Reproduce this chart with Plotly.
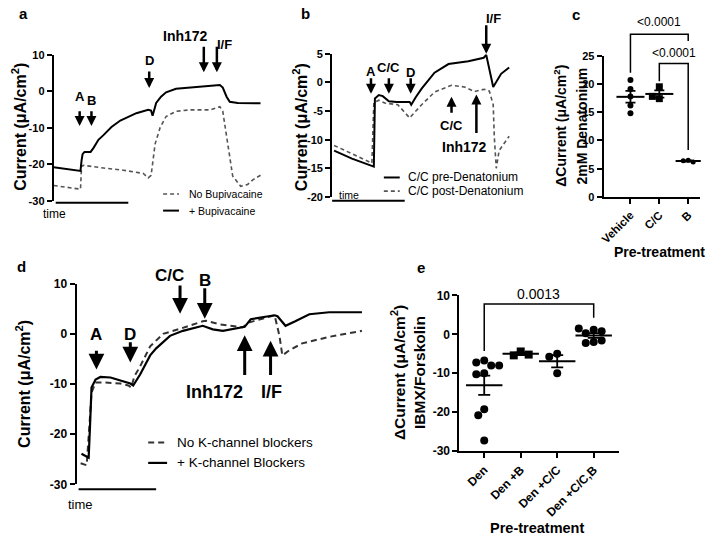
import numpy as np
import plotly.graph_objects as go

W, H = 708, 542
FONT = "Liberation Sans, Arial, Helvetica, sans-serif"

# ---------------- data ----------------
# a: Ussing chamber traces, with / without bupivacaine
a_t_bup = [0, 12.7, 13.2, 13.7, 14.6, 17.5, 18.9, 19.8, 21.2, 23.6, 27.4, 31.6, 35.4, 39.2, 44.8,
           46.2, 46.9, 48.6, 50.9, 53.3, 58.0, 64.6, 73.1, 75.5, 78.8, 80.2, 82.0, 83.5, 87.3, 98.1]
a_bup = [-20.8, -21.8, -19.0, -17.2, -16.6, -16.6, -15.5, -14.5, -13.3, -12.0, -9.8, -8.0, -7.1, -6.0, -5.1,
         -5.3, -6.7, -3.2, -1.5, -0.3, 0.7, 1.0, 1.3, 1.6, 1.7, 1.0, -1.5, -2.9, -3.2, -3.3]
a_t_ctrl = [0, 7.1, 12.7, 13.2, 14.2, 23.6, 33.0, 42.5, 44.8, 46.2, 48.1, 50.5, 53.3, 58.0, 64.6,
            74.1, 78.8, 80.2, 82.5, 84.9, 88.7, 92.0, 94.3, 98.1]
a_ctrl = [-25.8, -26.3, -26.8, -20.5, -20.3, -21.0, -21.6, -22.5, -23.7, -23.0, -14.4, -9.9, -6.9, -5.5, -5.1,
          -5.1, -4.2, -5.5, -14.4, -23.2, -26.0, -25.5, -24.3, -23.0]
a_yticks = [-30, -20, -10, 0, 10]

# b: C/C before / after denatonium
b_t_pre = [1.1, 11.1, 23.3, 23.9, 26.1, 28.3, 31.7, 36.1, 43.3, 44.2, 46.7, 50.0, 57.2, 65.0, 76.1,
           84.7, 86.1, 87.8, 90.0, 94.4, 98.9]
b_pre = [-11.9, -13.3, -14.7, -2.8, -2.2, -2.4, -3.3, -3.4, -3.4, -3.9, -2.6, -1.1, 1.7, 3.2, 3.7,
         4.3, 4.8, 2.5, -0.8, 1.5, 2.6]
b_t_post = [1.1, 22.2, 23.3, 26.1, 29.4, 36.7, 43.3, 50.0, 57.2, 66.7, 73.9, 79.4, 85.0, 87.8, 90.0,
            90.6, 91.7, 93.3, 98.9]
b_post = [-11.0, -14.1, -3.5, -3.1, -3.6, -3.9, -6.2, -3.9, -1.7, -0.5, -0.8, -1.6, -1.2, -1.5, -3.9,
          -9.5, -15.0, -11.9, -9.4]
b_yticks = [-20, -15, -10, -5, 0, 5]

# c: delta current to 2mM denatonium by pre-treatment
c_groups = ["Vehicle", "C/C", "B"]
c_vehicle = [20.7, 19.1, 17.8, 16.2, 14.8]
c_cc = [19.5, 17.4, 17.8]
c_b = [6.5, 6.4, 6.2]
c_yticks = [0, 5, 10, 15, 20, 25]
c_pvals = ["<0.0001", "<0.0001"]

# d: with / without K-channel blockers
d_t_blk = [1.7, 4.2, 4.7, 5.2, 6.6, 8.3, 11.8, 15.2, 18.7, 19.7, 22.1, 25.6, 27.7, 32.5, 37.0,
           43.9, 45.0, 47.4, 50.9, 55.4, 58.5, 60.6, 64.7, 68.9, 69.9, 72.7, 76.1, 81.0, 87.9, 99.3]
d_blk = [-23.9, -24.7, -18.0, -10.7, -9.1, -8.6, -8.7, -9.3, -9.9, -10.3, -8.1, -4.3, -2.9, -0.4, 0.6,
         1.6, 1.4, 0.9, 0.6, 1.0, 1.4, 2.9, 3.3, 3.7, 3.5, 1.6, 2.5, 3.9, 4.3, 4.3]
d_t_ctrl = [1.4, 3.5, 4.5, 5.2, 6.6, 9.3, 15.2, 18.0, 19.0, 20.1, 22.1, 25.6, 30.1, 36.0, 43.9,
            45.0, 49.8, 57.8, 60.2, 67.1, 68.9, 70.6, 71.6, 74.0, 78.5, 87.9, 99.3]
d_ctrl = [-25.8, -26.2, -18.0, -11.7, -9.7, -9.7, -9.9, -10.3, -10.7, -8.5, -6.5, -2.5, 0.0, 1.0, 2.5,
          2.6, 1.9, 1.3, 2.3, 3.4, 3.7, -0.4, -4.3, -3.3, -1.9, -0.6, 0.6]
d_yticks = [-30, -20, -10, 0, 10]

# e: delta current to IBMX/forskolin by pre-treatment
e_groups = ["Den", "Den +B", "Den +C/C", "Den +C/C,B"]
e_den = [-6.75, -7.25, -8.0, -8.0, -10.0, -10.25, -19.25, -20.75, -27.25]
e_den_b = [-4.4, -5.4, -5.2]
e_den_cc = [-5.0, -5.75, -10.0]
e_den_ccb = [1.2, 0.3, 0.8, 1.5, -2.0, -1.6, -2.2]
e_yticks = [-30, -20, -10, 0, 10]
e_pvals = ["0.0013"]

# ---------------- geometry: pixel box + data range of each panel ----------------
GEOM = {
    "a": dict(ax=1, px=(50, 262), py=(49, 199), xr=(0, 100), yr=(-30, 10)),
    "b": dict(ax=2, px=(330, 510), py=(48, 195), xr=(0, 100), yr=(-20, 5)),
    "c": dict(ax=3, px=(603, 700), py=(50, 195), xr=(-0.93, 2.41), yr=(0, 25)),
    "d": dict(ax=4, px=(73, 362), py=(284, 490), xr=(0, 100), yr=(-30, 10)),
    "e": dict(ax=5, px=(458, 618), py=(296, 456), xr=(-0.68, 3.68), yr=(-30, 10)),
}

fig = go.Figure()
ann, shp, axes = [], [], {}


def ids(p):
    i = GEOM[p]["ax"]
    s = "" if i == 1 else str(i)
    return "x" + s, "y" + s, "xaxis" + s, "yaxis" + s


def ppu(p):
    g = GEOM[p]
    return ((g["px"][1] - g["px"][0]) / (g["xr"][1] - g["xr"][0]),
            (g["py"][1] - g["py"][0]) / (g["yr"][1] - g["yr"][0]))


def to_px(p, x, y):
    g = GEOM[p]
    kx, ky = ppu(p)
    return g["px"][0] + (x - g["xr"][0]) * kx, g["py"][1] - (y - g["yr"][0]) * ky


def text(xp, yp, s, size, bold=True, xanchor="center", angle=0):
    ann.append(dict(x=xp / W, y=1 - yp / H, xref="paper", yref="paper", text=s, showarrow=False,
                    xanchor=xanchor, yanchor="middle", textangle=angle,
                    font=dict(family=FONT, size=size, color="black",
                              weight="bold" if bold else "normal")))


def seg(x0, y0, x1, y1, width=2, dash="solid", color="black"):
    shp.append(dict(type="line", xref="paper", yref="paper", x0=x0 / W, y0=1 - y0 / H,
                    x1=x1 / W, y1=1 - y1 / H, line=dict(color=color, width=width, dash=dash)))


def setup_axes(p, yticks, tfs, cats=None, cfs=11):
    xid, yid, xk, yk = ids(p)
    g = GEOM[p]
    xa = dict(domain=[g["px"][0] / W, g["px"][1] / W], range=list(g["xr"]), anchor=yid,
              showgrid=False, zeroline=False, fixedrange=True)
    if cats is None:
        xa["visible"] = False
    else:
        xa.update(showline=True, linewidth=2, linecolor="black", ticks="outside", ticklen=5,
                  tickwidth=2, tickcolor="black", tickvals=list(range(len(cats))), ticktext=cats,
                  tickangle=-45, tickfont=dict(family=FONT, size=cfs, color="black", weight="bold"))
    ya = dict(domain=[1 - g["py"][1] / H, 1 - g["py"][0] / H], range=list(g["yr"]), anchor=xid,
              showgrid=False, zeroline=False, showline=True, linewidth=2, linecolor="black",
              ticks="outside", ticklen=5, tickwidth=2, tickcolor="black", fixedrange=True,
              tickvals=yticks, ticktext=[str(v) for v in yticks],
              tickfont=dict(family=FONT, size=tfs, color="black", weight="bold"))
    axes[xk] = xa
    axes[yk] = ya


def trace(p, t, v, dash="solid", color="black", width=2):
    xid, yid, _, _ = ids(p)
    fig.add_trace(go.Scatter(x=t, y=v, xaxis=xid, yaxis=yid, mode="lines",
                             line=dict(color=color, width=width, dash=dash),
                             showlegend=False, hoverinfo="skip"))


def arrow(p, t, tip, tail, w=2.5, s=0.8):
    xt, yt = to_px(p, t, tip)
    _, ytl = to_px(p, t, tail)
    ann.append(dict(x=xt / W, y=1 - yt / H, xref="paper", yref="paper", ax=0, ay=ytl - yt,
                    axref="pixel", ayref="pixel", text="", showarrow=True, arrowhead=2,
                    arrowsize=s, arrowwidth=w, arrowcolor="black"))


def swarm(vals, kx, ky, diam):
    placed, offs = [], []
    cands = sorted(range(-40, 41), key=lambda k: (abs(k), k))
    for v in vals:
        yp = v * ky
        for c in cands:
            if all((c - a) ** 2 + (yp - b) ** 2 >= diam ** 2 for a, b in placed):
                placed.append((c, yp))
                offs.append(c / kx)
                break
    return offs


def dots(p, i, vals, symbol, size, mean_w, cap_w):
    xid, yid, _, _ = ids(p)
    kx, ky = ppu(p)
    offs = swarm(vals, kx, ky, size)
    fig.add_trace(go.Scatter(x=[i + o for o in offs], y=vals, xaxis=xid, yaxis=yid, mode="markers",
                             marker=dict(symbol=symbol, size=size, color="black"),
                             cliponaxis=False, showlegend=False, hoverinfo="skip"))
    m = float(np.mean(vals))
    sem = float(np.std(vals, ddof=1) / np.sqrt(len(vals)))
    fig.add_trace(go.Scatter(x=[i], y=[m], xaxis=xid, yaxis=yid, mode="markers",
                             marker=dict(symbol="line-ew", size=mean_w,
                                         line=dict(color="black", width=2)),
                             error_y=dict(type="data", array=[sem], color="black", thickness=1.8,
                                          width=cap_w),
                             cliponaxis=False, showlegend=False, hoverinfo="skip"))


def bracket(p, i0, i1, y, y0, y1, label, size, gap):
    xa, yb = to_px(p, i0, y)
    xb, _ = to_px(p, i1, y)
    _, ya0 = to_px(p, i0, y0)
    _, yb1 = to_px(p, i1, y1)
    path = "M {:.5f},{:.5f} L {:.5f},{:.5f} L {:.5f},{:.5f} L {:.5f},{:.5f}".format(
        xa / W, 1 - ya0 / H, xa / W, 1 - yb / H, xb / W, 1 - yb / H, xb / W, 1 - yb1 / H)
    shp.append(dict(type="path", xref="paper", yref="paper", path=path,
                    line=dict(color="black", width=1.5)))
    text((xa + xb) / 2, yb - gap, label, size, bold=False)


def legend(rows, x0, x1, xt, size):
    for label, y, dash, color, width in rows:
        seg(x0, y, x1, y, width, dash, color)
        text(xt, y, label, size, bold=False, xanchor="left")


DASH_A = "4px,3px"
DASH_D = "6px,4px"

# ---------------- panel a ----------------
setup_axes("a", a_yticks, 11)
trace("a", a_t_ctrl, a_ctrl, DASH_A, "#555555", 1.6)
trace("a", a_t_bup, a_bup)
for lab, t, tip, tail, lt, ly, fs in [("A", 12.3, -9.5, -5.2, 12.3, -1.5, 13),
                                      ("B", 17.9, -9.5, -5.2, 17.9, -2.5, 13),
                                      ("D", 45.3, 0.9, 5.7, 45.3, 8.4, 13),
                                      ("Inh172", 71.2, 5.2, 12.4, 62.7, 15.1, 14),
                                      ("I/F", 77.4, 5.2, 12.4, 81.1, 12.7, 13)]:
    arrow("a", t, tip, tail)
    text(*to_px("a", lt, ly), lab, fs)
seg(52, 201, 125, 201, 2)
text(51, 213, "time", 12, bold=False)
legend([("No Bupivacaine", 192, DASH_A, "#555555", 1.6), ("+ Bupivacaine", 209, "solid", "black", 2)],
       160, 176, 184, 10.5)
text(15, 123, "Current (μA/cm<sup>2</sup>)", 16, angle=-90)
text(20, 7, "a", 15)

# ---------------- panel b ----------------
setup_axes("b", b_yticks, 11)
trace("b", b_t_post, b_post, DASH_A, "#555555", 1.6)
trace("b", b_t_pre, b_pre)
for lab, t, tip, tail, lt, ly, fs in [("A", 21.7, -2.0, 0.9, 21.7, 1.9, 13),
                                      ("C/C", 31.7, -2.0, 0.9, 31.7, 2.6, 13),
                                      ("D", 43.9, -2.0, 0.9, 43.9, 1.8, 13),
                                      ("C/C", 66.7, -2.5, -5.5, 66.7, -7.6, 13),
                                      ("Inh172", 80.6, -2.1, -8.9, 73.9, -11.2, 14),
                                      ("I/F", 86.1, 5.0, 10.1, 90.0, 11.1, 13)]:
    arrow("b", t, tip, tail)
    text(*to_px("b", lt, ly), lab, fs)
seg(330, 199, 403, 199, 2)
text(347, 193, "time", 10.5, bold=False)
legend([("C/C pre-Denatonium", 175, "solid", "black", 2),
        ("C/C post-Denatonium", 189, DASH_A, "#555555", 1.6)], 382, 398, 404, 12)
text(298, 123, "Current (μA/cm<sup>2</sup>)", 16, angle=-90)
text(303, 7, "b", 15)

# ---------------- panel c ----------------
setup_axes("c", c_yticks, 11, c_groups, 11.5)
dots("c", 0, c_vehicle, "circle", 6, 20, 5)
dots("c", 1, c_cc, "square", 7, 20, 5)
dots("c", 2, c_b, "circle", 5, 18, 4)
bracket("c", 0, 2, 28.8, 22.0, 27.6, c_pvals[0], 12, 13)
bracket("c", 1, 2, 23.6, 20.5, 8.3, c_pvals[1], 12, 11)
text(559, 122, "ΔCurrent (μA/cm<sup>2</sup>)", 14, angle=-90)
text(581, 122, "2mM Denatonium", 14, angle=-90)
text(659, 252, "Pre-treatment", 14)
text(575, 8, "c", 15)

# ---------------- panel d ----------------
setup_axes("d", d_yticks, 12)
trace("d", d_t_ctrl, d_ctrl, DASH_D, "#333333", 2)
trace("d", d_t_blk, d_blk, "solid", "black", 2.2)
for lab, t, tip, tail, lt, ly, fs in [("A", 6.9, -7.1, -3.2, 6.9, -0.1, 17),
                                      ("D", 18.7, -5.7, -1.5, 18.7, -0.1, 17),
                                      ("C/C", 36.0, 4.0, 9.8, 32.2, 11.6, 17),
                                      ("B", 44.6, 3.0, 9.2, 44.6, 10.6, 17),
                                      ("Inh172", 58.5, -0.3, -8.3, 48.1, -11.6, 18),
                                      ("I/F", 67.5, -1.4, -8.3, 67.8, -11.6, 18)]:
    arrow("d", t, tip, tail, 3, 1.05)
    text(*to_px("d", lt, ly), lab, fs)
seg(75, 495, 153, 495, 2)
text(77, 511, "time", 13, bold=False)
legend([("No K-channel blockers", 447, DASH_D, "#333333", 2),
        ("+ K-channel Blockers", 468, "solid", "black", 2.2)], 145, 164, 172, 13.5)
text(19, 387, "Current (μA/cm<sup>2</sup>)", 16, angle=-90)
text(18, 266, "d", 15)

# ---------------- panel e ----------------
setup_axes("e", e_yticks, 12, e_groups, 12)
dots("e", 0, e_den, "circle", 8, 26, 6)
dots("e", 1, e_den_b, "square", 8, 26, 6)
dots("e", 2, e_den_cc, "circle", 8, 26, 6)
dots("e", 3, e_den_ccb, "circle", 8, 26, 6)
bracket("e", 0, 3, 7.75, -4.25, 4.25, e_pvals[0], 14, 10)
text(397, 375, "ΔCurrent (μA/cm<sup>2</sup>)", 15.5, angle=-90)
text(418, 375, "IBMX/Forskolin", 15.5, angle=-90)
text(536, 535, "Pre-treatment", 14.5)
text(419, 267, "e", 15)

fig.update_layout(
    width=W, height=H, autosize=False,
    margin=dict(l=0, r=0, t=0, b=0),
    paper_bgcolor="white", plot_bgcolor="white",
    showlegend=False,
    font=dict(family=FONT, color="black"),
    annotations=ann, shapes=shp,
    **axes,
)

# the page body has a default 8px margin; drop it so the figure sits at the window origin
fig.write_html("out.html", config={"displayModeBar": False},
               post_script="document.body.style.margin='0';")
